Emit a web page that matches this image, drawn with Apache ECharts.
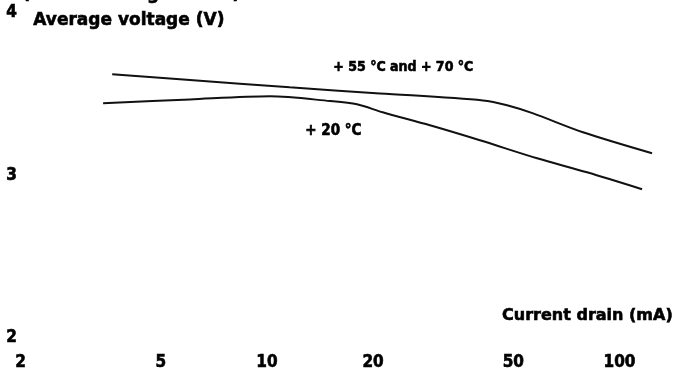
<!DOCTYPE html>
<html>
<head>
<meta charset="utf-8">
<script src="https://cdn.jsdelivr.net/npm/echarts@6/dist/echarts.min.js"></script>
<style>
  html, body { margin: 0; padding: 0; background: #fff; }
  #chart { width: 675px; height: 373px; }
</style>
</head>
<body>
<div id="chart"></div>
<script>
// Current drain (mA) and average voltage (V) per temperature curve
const hotCurrent = [3.64, 6.05, 11.6, 20.9, 41.0, 48.0, 56.9, 78.8, 123.7];
const hotVoltage = [3.62, 3.585, 3.54, 3.503, 3.46, 3.43, 3.38, 3.264, 3.135];

const roomCurrent = [3.43, 6.05, 10.2, 15.1, 18.0, 21.3, 29.0, 40.2, 58.4, 80.9, 115.9];
const roomVoltage = [3.442, 3.466, 3.485, 3.456, 3.436, 3.387, 3.307, 3.215, 3.104, 3.018, 2.914];

// Tick labels
const currentTicks = [2, 5, 10, 20, 50, 100];
const voltageTicks = [2, 3, 4];

const numFont = '"DejaVu Sans Condensed", "DejaVu Sans", sans-serif';
const headFont = '"DejaVu Sans", sans-serif';

// Horizontal axis is logarithmic: plot log10 of the current
const lg = v => Math.log10(v);
const pairs = (xs, ys) => xs.map((x, i) => [lg(x), ys[i]]);

const chart = echarts.init(document.getElementById('chart'), null, { renderer: 'canvas' });

const lineStyle = { color: '#111', width: 2 };
// Heavy black lettering
const heavy = { fill: '#000', stroke: '#000', lineWidth: 0.6 };

chart.setOption({
  animation: false,
  backgroundColor: '#ffffff',
  grid: { left: 20.5, right: 4, top: 12.5, bottom: 35, containLabel: false },
  xAxis: {
    type: 'value',
    min: lg(2),
    max: lg(140),
    axisLine: { show: false },
    axisTick: { show: false },
    splitLine: { show: false },
    axisLabel: {
      customValues: currentTicks.map(lg),
      formatter: v => String(Math.round(Math.pow(10, v))),
      color: '#000',
      fontFamily: numFont,
      fontWeight: 'bold',
      fontSize: 17,
      textBorderColor: '#000',
      textBorderWidth: 0.6,
      margin: 25,
      verticalAlign: 'middle'
    }
  },
  yAxis: {
    type: 'value',
    min: voltageTicks[0],
    max: voltageTicks[voltageTicks.length - 1],
    interval: 1,
    axisLine: { show: false },
    axisTick: { show: false },
    splitLine: { show: false },
    axisLabel: {
      color: '#000',
      fontFamily: numFont,
      fontWeight: 'bold',
      fontSize: 17,
      textBorderColor: '#000',
      textBorderWidth: 0.6,
      margin: 9,
      align: 'center'
    }
  },
  series: [
    {
      name: '+ 55 °C and + 70 °C',
      type: 'line',
      data: pairs(hotCurrent, hotVoltage),
      smooth: 0.3,
      symbol: 'none',
      lineStyle: lineStyle
    },
    {
      name: '+ 20 °C',
      type: 'line',
      data: pairs(roomCurrent, roomVoltage),
      smooth: 0.3,
      symbol: 'none',
      lineStyle: lineStyle
    }
  ],
  graphic: [
    {
      type: 'text', left: 22, top: -14,
      style: Object.assign({ text: '(cut-off voltage: 2.0 V)', font: 'bold 17px ' + headFont }, heavy)
    },
    {
      type: 'text', left: 33, top: 12,
      style: Object.assign({ text: 'Average voltage (V)', font: 'bold 17px ' + headFont }, heavy)
    },
    {
      type: 'text', left: 333, top: 60,
      style: Object.assign({ text: '+ 55 °C and + 70 °C', font: 'bold 14px ' + numFont }, heavy)
    },
    {
      type: 'text', left: 305, top: 123,
      style: Object.assign({ text: '+ 20 °C', font: 'bold 15px ' + numFont }, heavy)
    },
    {
      type: 'text', right: 2, top: 308,
      style: Object.assign({ text: 'Current drain (mA)', font: 'bold 16px ' + headFont }, heavy)
    }
  ]
});
</script>
</body>
</html>
